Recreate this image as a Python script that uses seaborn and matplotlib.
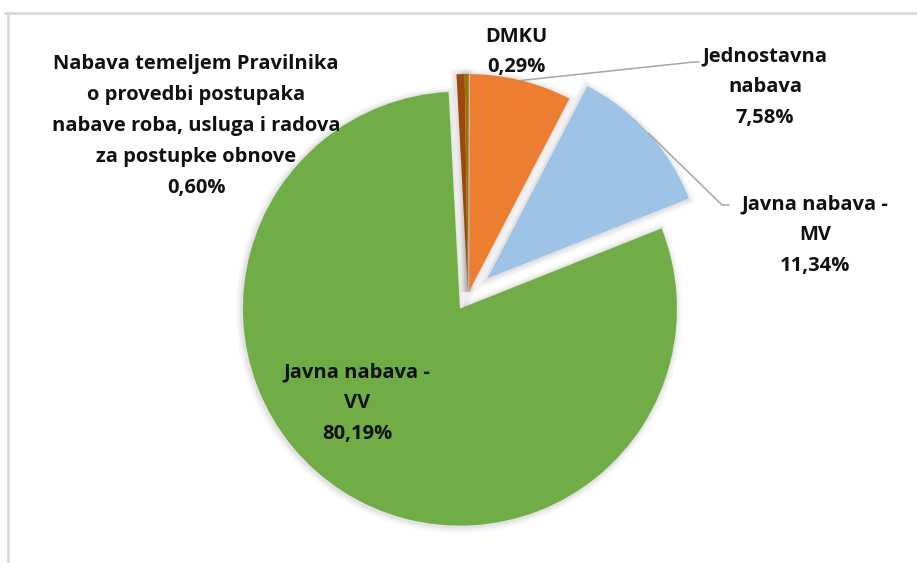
import numpy as np
import matplotlib
matplotlib.use("Agg")
import matplotlib.pyplot as plt
from matplotlib.patches import Wedge
import seaborn as sns

sns.set_theme(style="white")
plt.rcParams['font.family'] = ['Open Sans', 'DejaVu Sans']

# data
categories = [
    "Nabava temeljem Pravilnika\no provedbi postupaka\nnabave roba, usluga i radova\nza postupke obnove",
    "DMKU",
    "Jednostavna\nnabava",
    "Javna nabava -\nMV",
    "Javna nabava -\nVV",
]
shares = [0.60, 0.29, 7.58, 11.34, 80.19]
pct_labels = ["0,60%", "0,29%", "7,58%", "11,34%", "80,19%"]
colors = ["#9E480E", "#997300", "#ED7D31", "#9DC3E6", "#70AD47"]
# explode offsets in px (pie explode is in data units here)
explode = [5, 5, 5, 26, 15]

W, H = 917, 563
fig = plt.figure(figsize=(W / 100, H / 100), dpi=100)
ax = fig.add_axes([0, 0, 1, 1])

center = (468, H - 296)
radius = 217
wedges, _ = ax.pie(shares, colors=colors, explode=explode, startangle=93,
                   counterclock=False, center=center, radius=radius,
                   frame=True, wedgeprops=dict(linewidth=0, zorder=2))
ax.set_xlim(0, W)
ax.set_ylim(0, H)
ax.axis('off')

# soft shadow around the slices, like the excel original
for w in wedges:
    for lw, a in [(9, 0.025), (6, 0.035), (3, 0.05)]:
        ax.add_patch(Wedge((w.center[0] - 1, w.center[1] - 1), w.r, w.theta1, w.theta2,
                           facecolor='none', edgecolor='black', lw=lw, alpha=a, zorder=1))

# label positions (image px, y from top)
label_pos = [(196, 126), (516, 52), (765, 87), (815, 235), (357, 403)]
for cat, pct, (x, y) in zip(categories, pct_labels, label_pos):
    ax.text(x, H - y, cat + "\n" + pct, ha='center', va='center',
            fontsize=14.5, fontweight='bold', color='#111111', linespacing=1.72)

# leader lines from the middle of the slice arc
def arc_mid(w):
    t = np.deg2rad((w.theta1 + w.theta2) / 2)
    return w.center[0] + w.r * np.cos(t), w.center[1] + w.r * np.sin(t)

leaders = {2: [(694, 62), (699, 62)], 3: [(722, 205), (729, 205)]}
for i, pts in leaders.items():
    x0, y0 = arc_mid(wedges[i])
    xs = [x0] + [p[0] for p in pts]
    ys = [y0] + [H - p[1] for p in pts]
    ax.plot(xs, ys, color='#A6A6A6', lw=1.1, zorder=3)

# chart area frame (only top and left visible)
ax.plot([5, W], [H - 13, H - 13], color='#D9D9D9', lw=2)
ax.plot([8, 8], [0, H - 13], color='#D9D9D9', lw=2)

fig.savefig("out.png", dpi=100)
